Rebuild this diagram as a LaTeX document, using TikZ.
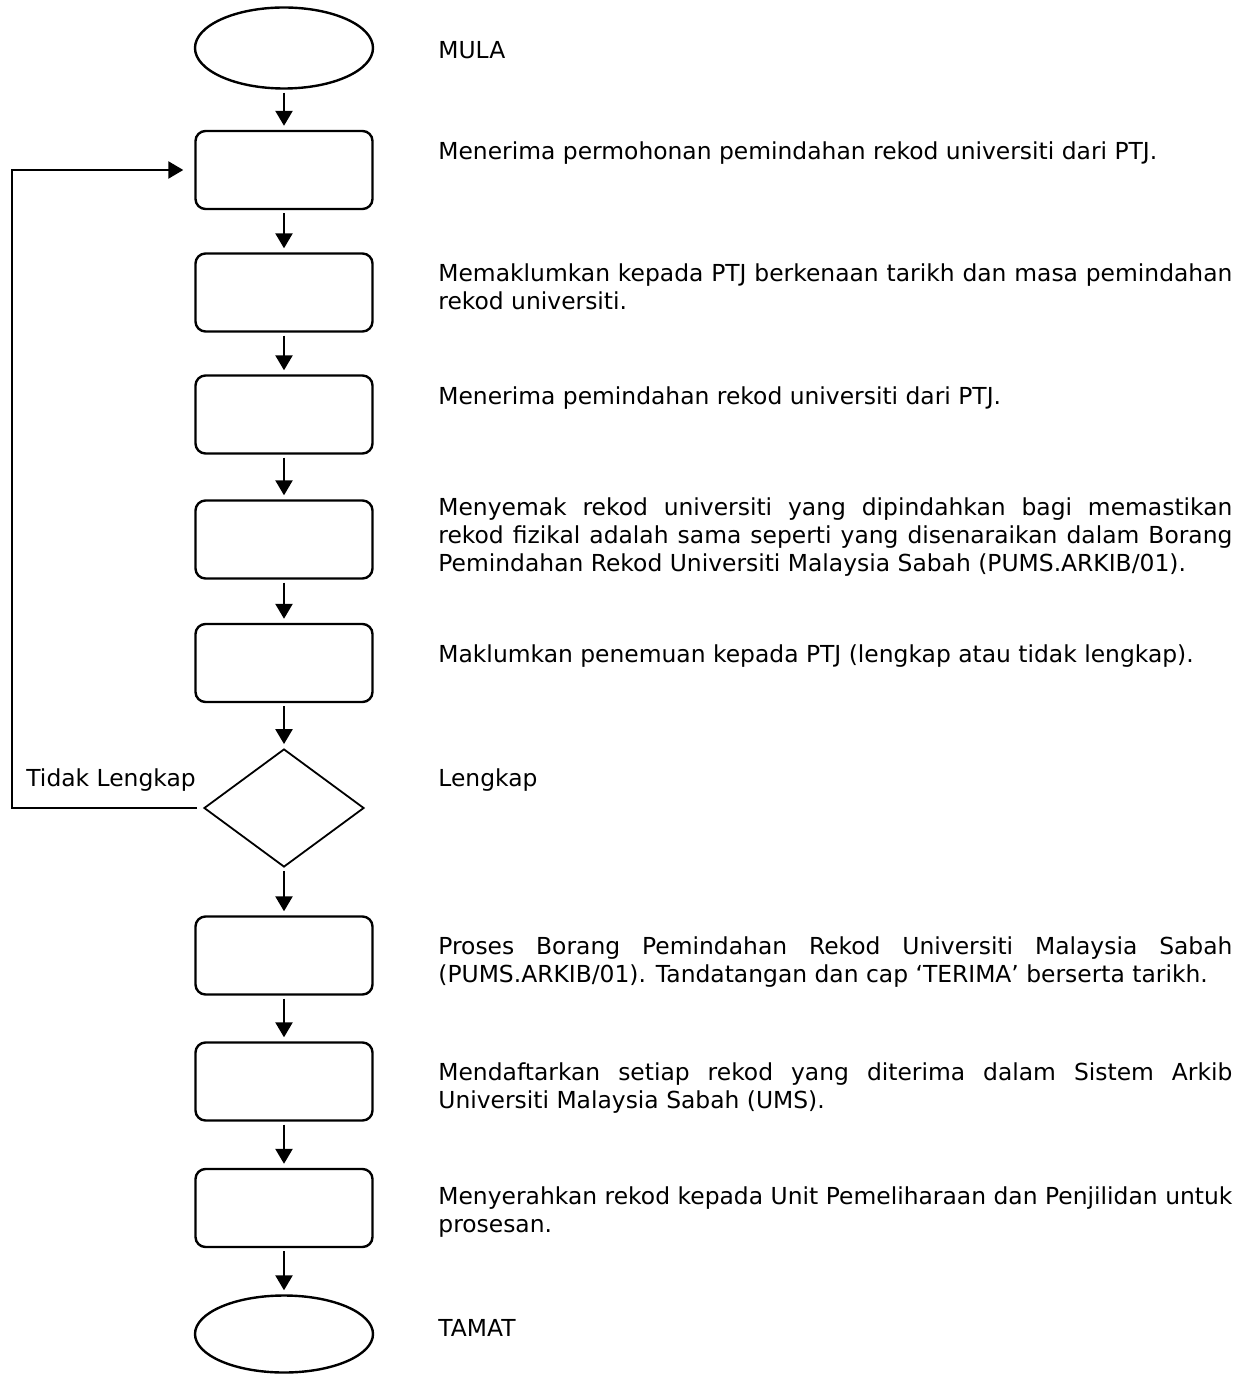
\documentclass[tikz,border=0pt]{standalone}
\usepackage{fontspec}
\setmainfont{DejaVu Sans}
\usetikzlibrary{shapes.geometric,arrows.meta}
\newcommand{\descbox}[1]{\parbox[t]{397pt}{\fontsize{11.7pt}{14pt}\selectfont\hyphenpenalty=10000\exhyphenpenalty=10000\tolerance=9999\emergencystretch=30pt #1}}
\begin{document}
\begin{tikzpicture}[x=0.5pt,y=-0.5pt,
  proc/.style={draw, line width=1.2pt, rounded corners=5pt, minimum width=88.5pt, minimum height=39pt, inner sep=0pt},
  term/.style={draw, ellipse, line width=1.2pt, minimum width=89pt, inner sep=0pt},
  dec/.style={draw, diamond, line width=0.9pt, minimum width=80pt, minimum height=59pt, inner sep=0pt},
  arr/.style={line width=1.2pt, -{Triangle[length=7.5pt,width=8.5pt]}, shorten <=1.5pt, shorten >=2pt},
  fb/.style={line width=1.2pt, -{Triangle[length=7.5pt,width=8.5pt]}, shorten <=3pt, shorten >=5.5pt},
  lab/.style={anchor=base west, inner sep=0pt, font=\fontsize{11.7pt}{14pt}\selectfont}]
\useasboundingbox (0,0) rectangle (1250,1374);

% shapes
\node[term, minimum height=40.5pt] (start) at (284,48) {};
\node[proc] (b1) at (284,170) {};
\node[proc] (b2) at (284,292.5) {};
\node[proc] (b3) at (284,414.5) {};
\node[proc] (b4) at (284,539.5) {};
\node[proc] (b5) at (284,663) {};
\node[dec] (dec) at (284,808) {};
\node[proc] (b6) at (284,955.5) {};
\node[proc] (b7) at (284,1081.5) {};
\node[proc] (b8) at (284,1208) {};
\node[term, minimum height=38.5pt] (stop) at (284,1334) {};

% connectors
\draw[arr] (start) -- (b1);
\draw[arr] (b1) -- (b2);
\draw[arr] (b2) -- (b3);
\draw[arr] (b3) -- (b4);
\draw[arr] (b4) -- (b5);
\draw[arr] (b5) -- (dec);
\draw[arr] (dec) -- (b6);
\draw[arr] (b6) -- (b7);
\draw[arr] (b7) -- (b8);
\draw[arr] (b8) -- (stop);
\coordinate (fbc) at (12,808);
\draw[fb] (dec.west) -- (fbc) |- (b1.west);

% texts
\node[lab] (t0) at (438,59) {MULA};
\node[lab] (t1) at (438,160) {Menerima permohonan pemindahan rekod universiti dari PTJ.};
\node[lab] (t2) at (438,282) {\descbox{Memaklumkan kepada PTJ berkenaan tarikh dan masa pemindahan\linebreak rekod universiti.}};
\node[lab] (t3) at (438,404) {Menerima pemindahan rekod universiti dari PTJ.};
\node[lab] (t4) at (438,515) {\descbox{Menyemak rekod universiti yang dipindahkan bagi memastikan\linebreak rekod fizikal adalah sama seperti yang disenaraikan dalam Borang\linebreak Pemindahan Rekod Universiti Malaysia Sabah (PUMS.ARKIB/01).}};
\node[lab] (t5) at (438,662) {Maklumkan penemuan kepada PTJ (lengkap atau tidak lengkap).};
\node[lab] (tno) at (26,786) {Tidak Lengkap};
\node[lab] (tyes) at (438,786) {Lengkap};
\node[lab] (t6) at (438,954) {\descbox{Proses Borang Pemindahan Rekod Universiti Malaysia Sabah\linebreak (PUMS.ARKIB/01). Tandatangan dan cap ‘TERIMA’ berserta tarikh.}};
\node[lab] (t7) at (438,1080) {\descbox{Mendaftarkan setiap rekod yang diterima dalam Sistem Arkib\linebreak Universiti Malaysia Sabah (UMS).}};
\node[lab] (t8) at (438,1204) {\descbox{Menyerahkan rekod kepada Unit Pemeliharaan dan Penjilidan untuk\linebreak prosesan.}};
\node[lab] (t9) at (438,1336) {TAMAT};
\end{tikzpicture}
\end{document}
